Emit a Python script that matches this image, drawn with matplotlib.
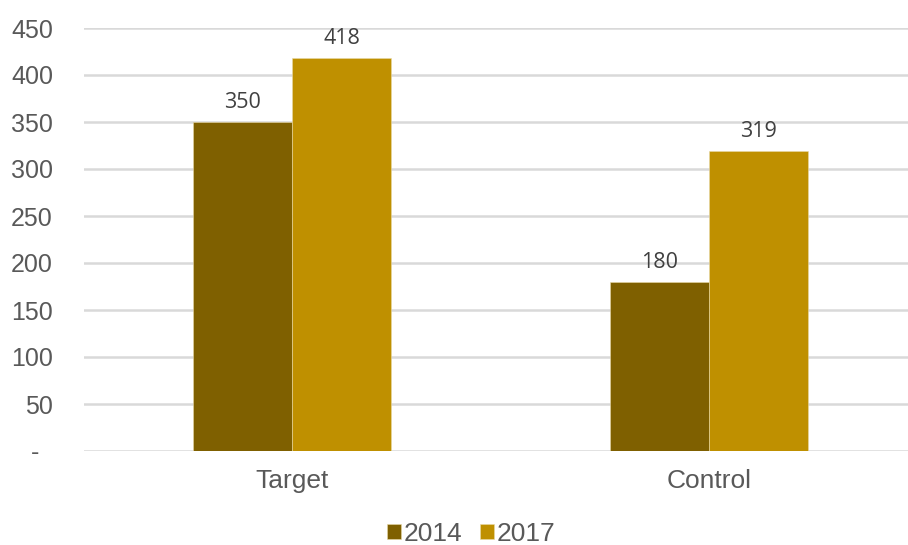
import numpy as np
import matplotlib.pyplot as plt

categories = ["Target", "Control"]
years = ["2014", "2017"]
values_2014 = [350, 180]
values_2017 = [418, 319]
colors = ["#7F6000", "#BF9000"]

fig = plt.figure(figsize=(9.08, 5.45), dpi=100)
ax = fig.add_axes([83.5 / 908, 1 - 451 / 545, 834 / 908, 423 / 545])

x = np.arange(len(categories))
width = 0.2375

for i, (vals, label) in enumerate(zip([values_2014, values_2017], years)):
    pos = x + (i - 0.5) * width
    ax.bar(pos, vals, width=width, color=colors[i], label=label,
           edgecolor="#E8D9A8", linewidth=0.4, zorder=3)
    for p, v in zip(pos, vals):
        ax.annotate(str(v), (p, v), xytext=(0, 6.5), textcoords="offset points",
                    ha="center", va="bottom", fontsize=15.5,
                    family="Open Sans", color="#404040")

ax.set_xlim(-0.5, 1.5)
ax.set_ylim(0, 450)
ax.set_yticks(range(0, 451, 50))
ax.set_yticklabels(["-  "] + [str(v) for v in range(50, 451, 50)])
ax.set_xticks(x)
ax.set_xticklabels(categories)

ax.grid(axis="y", color="#D9D9D9", linewidth=1.8, zorder=0)
for s in ax.spines.values():
    s.set_visible(False)
ax.tick_params(axis="both", length=0, labelcolor="#595959")
ax.tick_params(axis="y", pad=22, labelsize=18)
ax.tick_params(axis="x", pad=13, labelsize=19)
for lbl in ax.get_xticklabels() + ax.get_yticklabels():
    lbl.set_family("Liberation Sans")

leg = fig.legend(loc="center", ncol=2, frameon=False, bbox_to_anchor=(0.519, 11 / 545),
                 prop={"family": "Liberation Sans", "size": 19},
                 handlelength=0.53, handleheight=0.53, handletextpad=0.12,
                 columnspacing=0.65, borderpad=0)
for t in leg.get_texts():
    t.set_color("#595959")

fig.savefig("out.png", dpi=100)
